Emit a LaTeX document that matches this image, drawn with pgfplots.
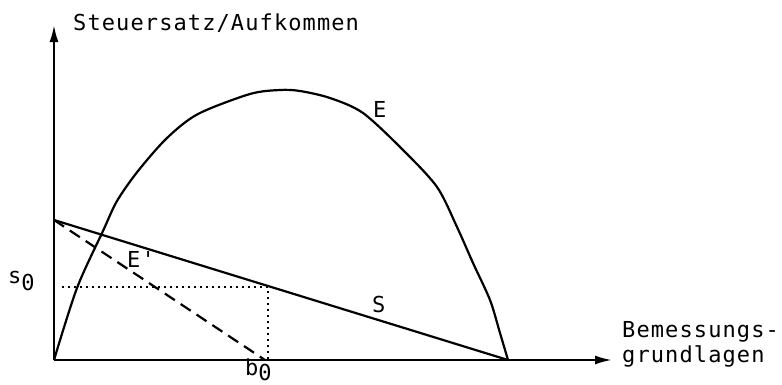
\documentclass[border=0pt]{standalone}
\usepackage{pgfplots}
\pgfplotsset{compat=1.18}
\usepackage{fontspec}
\usetikzlibrary{arrows.meta}
\newfontfamily\pf[LetterSpace=5]{DejaVu Sans Mono}
\begin{document}
\begin{tikzpicture}
\useasboundingbox (-54pt,-24pt) rectangle (728pt,360pt);
\begin{axis}[
  anchor=origin, at={(0pt,0pt)},
  x=1pt, y=1pt,
  xmin=0, xmax=558, ymin=0, ymax=335,
  axis lines=left,
  axis line style={line width=2.2pt, -{Latex[length=17pt,width=9pt]}},
  xtick=\empty, ytick=\empty,
  clip=false,
  font=\pf\fontsize{22pt}{26pt}\selectfont,
]
% E curve
\addplot[black, line width=2.2pt, smooth, tension=0.5] coordinates {
 (0,0) (23,72) (49,129) (63,159) (84,189) (113,222) (144,246) (196,266)
 (226,270) (246,269) (276,262) (309,247) (349,210) (383,173) (403,133)
 (419,97) (436,60) (446,27) (454,0)};
% S line
\addplot[black, line width=2.2pt] coordinates {(0,140) (454,0)};
% E' dashed
\addplot[black, line width=2.2pt, dash pattern=on 12pt off 7pt] coordinates {(0,140) (211,0)};
% dotted lines
\addplot[black, line width=2pt, dash pattern=on 2pt off 4pt] coordinates {(8,73) (214,73) (214,0)};
\node[anchor=base west, inner sep=0pt] at (axis cs:19,330) {Steuersatz/Aufkommen};
\node[anchor=base west, inner sep=0pt] at (axis cs:319,243) {E};
\node[anchor=base west, inner sep=0pt] at (axis cs:73,93) {E'};
\node[anchor=base west, inner sep=0pt] at (axis cs:318,48) {S};
\node[anchor=base west, inner sep=0pt] at (axis cs:-46,77) {s\raisebox{-7pt}{0}};
\node[anchor=base west, inner sep=0pt] at (axis cs:191,-15) {b\raisebox{-5pt}{0}};
\node[anchor=base west, inner sep=0pt] at (axis cs:568,23) {Bemessungs-};
\node[anchor=base west, inner sep=0pt] at (axis cs:568,-2) {grundlagen};
\end{axis}
\end{tikzpicture}
\end{document}
